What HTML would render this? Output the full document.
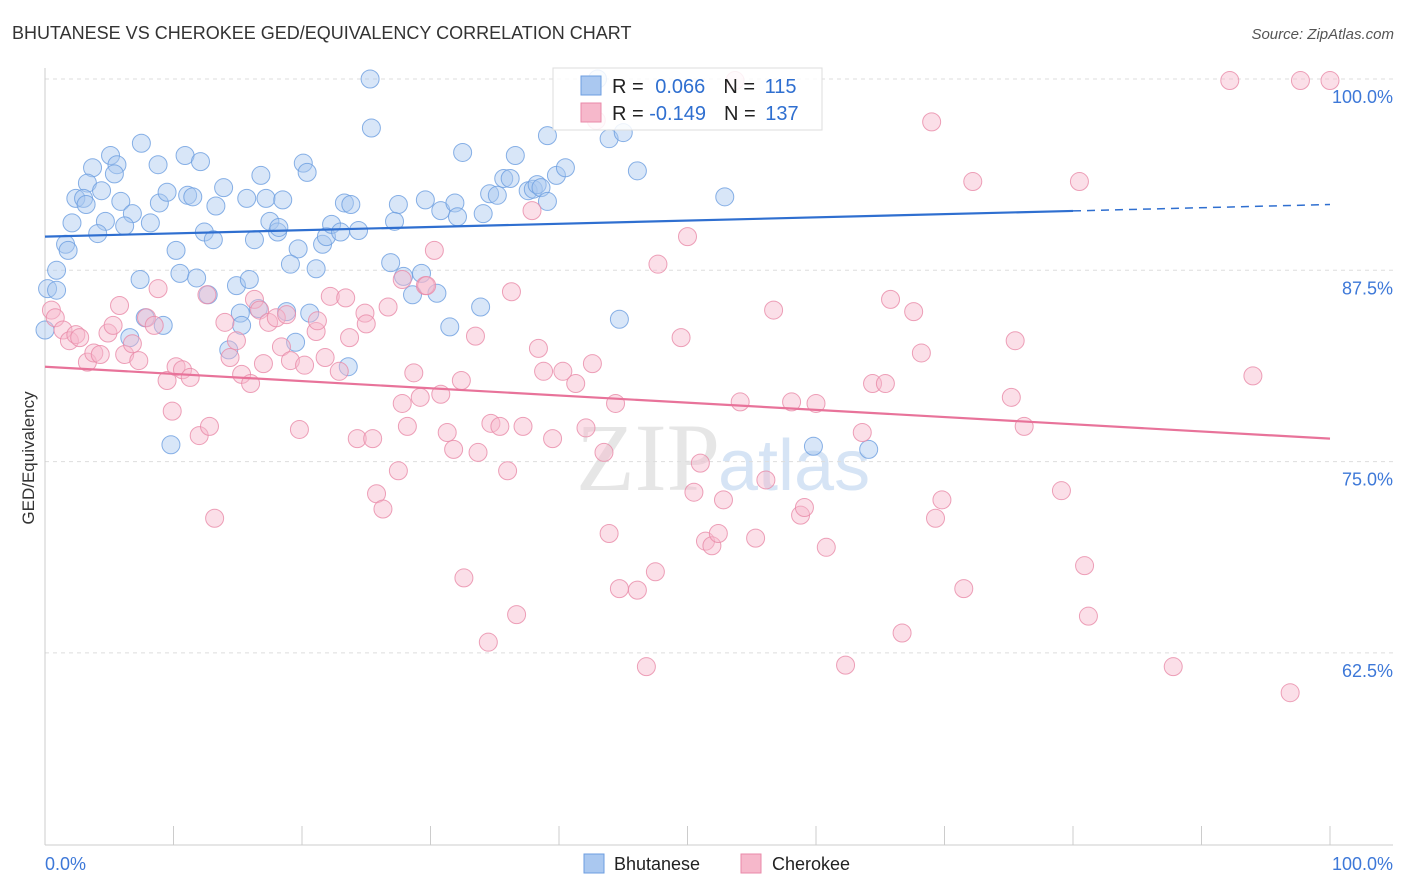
<!DOCTYPE html>
<html><head><meta charset="utf-8"><style>
body{margin:0;background:#fff;font-family:"Liberation Sans",sans-serif}
#wrap{position:relative;width:1406px;height:892px;overflow:hidden}
</style></head><body>
<div id="wrap">
<svg id="svg" width="1406" height="892" xmlns="http://www.w3.org/2000/svg">
<text x="12" y="39" font-size="18" fill="#333">BHUTANESE VS CHEROKEE GED/EQUIVALENCY CORRELATION CHART</text>
<text x="1394" y="39" font-size="15" fill="#555" font-style="italic" text-anchor="end">Source: ZipAtlas.com</text>
<text x="720" y="490" font-size="96" fill="#e6e6e6" text-anchor="end" font-family="Liberation Serif">ZIP</text>
<text x="718" y="490" font-size="72" fill="#d6e4f5">atlas</text>
<text x="34" y="458" font-size="17" fill="#333" text-anchor="middle" transform="rotate(-90 34 458)">GED/Equivalency</text>
<g id="grid"></g><g id="axes"></g><g id="pts"></g><g id="lines"></g>
<g>
<rect x="553" y="68" width="269" height="62" fill="#fff" fill-opacity="0.85" stroke="#ddd"/>
<rect x="581" y="76" width="20" height="19" fill="#aac8f0" stroke="#6c9ee0"/>
<rect x="581" y="103" width="20" height="19" fill="#f6b8cb" stroke="#e989a8"/>
<text x="612" y="93" font-size="20" fill="#222">R = <tspan fill="#2f6fd0" dx="6">0.066</tspan><tspan dx="18" fill="#222">N = </tspan><tspan fill="#2f6fd0" dx="4">115</tspan></text>
<text x="612" y="120" font-size="20" fill="#222">R = <tspan fill="#2f6fd0">-0.149</tspan><tspan dx="18" fill="#222">N = </tspan><tspan fill="#2f6fd0" dx="4">137</tspan></text>
</g>
<g>
<rect x="584" y="854" width="20" height="19" fill="#aac8f0" stroke="#6c9ee0"/>
<text x="614" y="870" font-size="18" fill="#222">Bhutanese</text>
<rect x="741" y="854" width="20" height="19" fill="#f6b8cb" stroke="#e989a8"/>
<text x="772" y="870" font-size="18" fill="#222">Cherokee</text>
</g>
</svg></div>
<script>
const yTicks=[100,87.5,75,62.5];
const yTickLabels=["100.0%","87.5%","75.0%","62.5%"];
const xTickCount=10;
const blueX=[25.3,25.4,7.5,5.1,10.9,8.8,12.1,5.6,3.7,5.4,3.3,4.4,2.4,3.0,3.2,5.9,6.8,8.9,9.5,11.1,11.5,13.3,13.9,15.7,16.8,17.2,18.5,20.1,20.4,4.7,6.2,8.2,4.1,2.1,1.6,1.8,0.9,0.2,0.9,0,7.4,10.5,11.8,12.7,14.9,15.9,10.2,12.4,13.1,16.3,17.5,18.1,18.2,19.7,19.1,21.1,21.6,21.9,22.3,23.0,23.3,23.8,24.4,27.5,27.2,26.9,27.9,29.3,28.6,30.5,29.6,30.8,31.9,32.1,32.5,34.1,34.6,35.2,35.7,36.2,36.6,37.6,38.0,38.3,38.6,39.1,39.8,40.5,39.1,43.0,43.9,45.0,46.1,52.9,33.9,31.5,44.7,7.8,9.2,6.6,15.2,15.3,16.6,18.8,20.6,14.3,19.5,23.6,9.8,59.8,64.1];
const blueY=[100,96.8,95.8,95.0,95.0,94.4,94.6,94.4,94.2,93.8,93.2,92.7,92.2,92.2,91.8,92.0,91.2,91.9,92.6,92.4,92.3,91.7,92.9,92.2,93.7,92.2,92.1,94.5,93.9,90.7,90.4,90.6,89.9,90.6,89.2,88.8,87.5,86.3,86.2,83.6,86.9,87.3,87.0,85.9,86.5,86.9,88.8,90.0,89.5,89.5,90.7,90.0,90.3,88.9,87.9,87.6,89.2,89.7,90.5,90.0,91.9,91.8,90.1,91.8,90.7,88.0,87.1,87.3,85.9,86.0,92.1,91.4,91.9,91.0,95.2,91.2,92.5,92.4,93.5,93.5,95.0,92.7,92.8,93.1,92.9,92.0,93.7,94.2,96.3,100,96.1,96.5,94.0,92.3,85.1,83.8,84.3,84.4,83.9,83.1,84.7,83.9,85.0,84.8,84.7,82.3,82.8,81.2,76.1,76.0,75.8];
const pinkX=[92.2,97.7,100,53.7,42.9,69.0,72.2,80.5,50.0,30.3,47.7,36.3,27.8,29.6,26.7,22.2,23.4,24.9,8.8,12.6,5.8,0.5,0.8,1.4,1.9,2.4,2.7,3.3,3.8,4.3,4.9,5.3,6.2,6.8,7.3,7.9,8.5,9.5,9.9,10.2,10.7,11.3,12.0,12.8,13.2,14.0,14.4,14.9,15.3,16.0,16.3,16.7,17.0,17.4,18.0,18.4,19.1,18.8,19.8,20.2,21.1,21.2,21.8,22.9,23.7,24.3,25.0,25.5,25.8,26.3,27.5,27.8,28.2,28.7,29.2,29.7,30.8,31.3,31.8,32.4,32.6,33.5,33.7,34.5,34.7,35.4,36.0,36.7,37.2,37.9,38.4,38.8,39.5,40.3,41.3,42.1,42.6,43.5,43.9,44.4,44.7,46.1,46.8,47.5,49.5,50.5,51.0,51.4,51.9,52.4,52.8,54.1,55.3,56.1,56.7,58.1,58.8,59.1,60.0,60.8,62.3,63.6,64.4,65.4,65.8,66.7,67.6,68.2,69.3,69.8,71.5,75.2,75.5,76.2,79.1,80.9,81.2,87.8,94.0,96.9];
const pinkY=[99.9,99.9,99.9,99.9,97.3,97.2,93.3,93.3,89.7,88.8,87.9,86.1,86.9,86.5,85.1,85.8,85.7,84.7,86.3,85.9,85.2,84.9,84.4,83.6,82.9,83.3,83.1,81.5,82.1,82.0,83.4,83.9,82.0,82.7,81.6,84.4,83.9,80.3,78.3,81.2,81.0,80.5,76.7,77.3,71.3,84.1,81.8,82.9,80.7,80.1,85.6,84.9,81.4,84.1,84.4,82.5,81.6,84.6,77.1,81.3,83.5,84.2,81.8,80.9,83.1,76.5,84.0,76.5,72.9,71.9,74.4,78.8,77.3,80.8,79.2,86.5,79.4,76.9,75.8,80.3,67.4,83.2,75.6,63.2,77.5,77.3,74.4,65.0,77.3,91.4,82.4,80.9,76.5,80.9,80.1,77.2,81.4,75.6,70.3,78.8,66.7,66.6,61.6,67.8,83.1,73.0,74.9,69.8,69.5,70.3,72.5,78.9,70.0,73.8,84.9,78.9,71.5,72.0,78.8,69.4,61.7,76.9,80.1,80.1,85.6,63.8,84.8,82.1,71.3,72.5,66.7,79.2,82.9,77.3,73.1,68.2,64.9,61.6,80.6,59.9];
const blueTrend=[89.7,91.8];
const pinkTrend=[81.2,76.5];
const blueSolidEnd=80;

const NS="http://www.w3.org/2000/svg";
const X=v=>45+v*12.85;
const Y=v=>79+(100-v)*15.304;
function mk(t,a,p){const e=document.createElementNS(NS,t);for(const k in a)e.setAttribute(k,a[k]);p.appendChild(e);return e;}
const grid=document.getElementById('grid'),axes=document.getElementById('axes'),pts=document.getElementById('pts'),lines=document.getElementById('lines');
yTicks.forEach((t,i)=>{
 const g=mk('line',{x1:45,x2:1393,y1:Y(t),y2:Y(t),stroke:'#ddd','stroke-dasharray':'4,4'},grid);
 
 
 const l=mk('text',{x:1393,y:Y(t)+24,'font-size':18,fill:'#3d78d8','text-anchor':'end'},axes);
 l.textContent=yTickLabels[i];
 
 
});
const ax=mk('line',{x1:45,x2:45,y1:68,y2:845,stroke:'#ccc'},axes);


const bx=mk('line',{x1:45,x2:1393,y1:845,y2:845,stroke:'#ccc'},axes);


for(let i=0;i<=xTickCount;i++){
 const t=mk('line',{x1:X(i*10),x2:X(i*10),y1:826,y2:845,stroke:'#ccc'},axes);
 
 
}
const x0=mk('text',{x:45,y:870,'font-size':18,fill:'#3d78d8'},axes);x0.textContent='0.0%';


const x1=mk('text',{x:1393,y:870,'font-size':18,fill:'#3d78d8','text-anchor':'end'},axes);x1.textContent='100.0%';


function dots(xs,ys,fill,stroke,name){xs.forEach((v,i)=>{
 const c=mk('circle',{cx:X(v),cy:Y(ys[i]),r:9,fill:fill,'fill-opacity':0.45,stroke:stroke,'stroke-opacity':0.8,'stroke-width':1},pts);
 
 
});}
dots(blueX,blueY,'#a9c7ef','#6c9ee0','bhutanese-point');
dots(pinkX,pinkY,'#f6b8cb','#e989a8','cherokee-point');
const bt=v=>blueTrend[0]+(blueTrend[1]-blueTrend[0])*v/100;
const l1=mk('line',{x1:X(0),y1:Y(bt(0)),x2:X(blueSolidEnd),y2:Y(bt(blueSolidEnd)),stroke:'#2f6fd0','stroke-width':2.2},lines);


const l2=mk('line',{x1:X(blueSolidEnd),y1:Y(bt(blueSolidEnd)),x2:X(100),y2:Y(bt(100)),stroke:'#2f6fd0','stroke-width':1.5,'stroke-dasharray':'8,6'},lines);


const l3=mk('line',{x1:X(0),y1:Y(pinkTrend[0]),x2:X(100),y2:Y(pinkTrend[1]),stroke:'#e8739a','stroke-width':2.2},lines);


</script>
</body></html>
